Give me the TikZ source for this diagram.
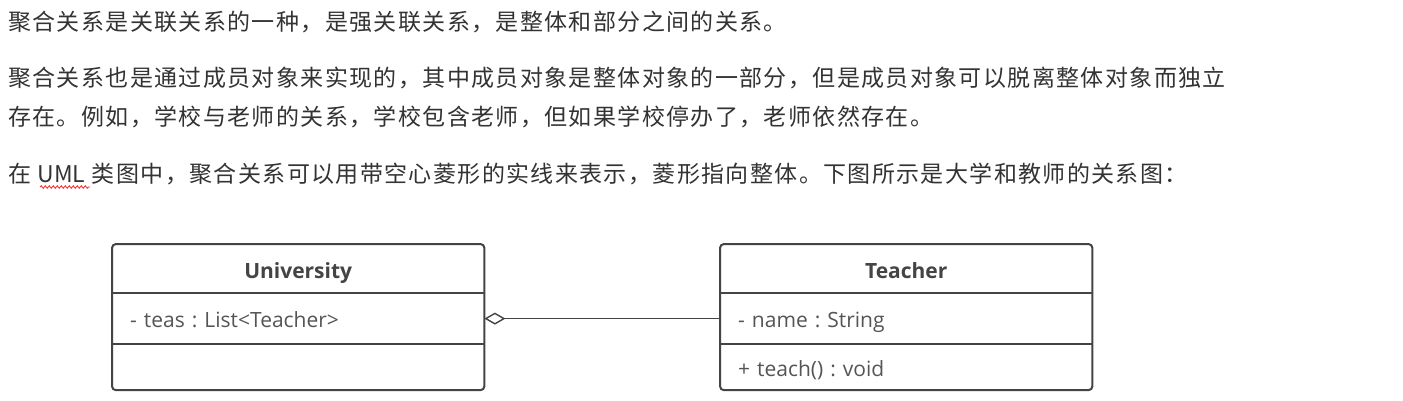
\documentclass[tikz,border=0pt]{standalone}
\usepackage{fontspec}
\setmainfont{Open Sans}
\newfontfamily\cjk[LetterSpace=6]{Noto Sans CJK SC}
\newfontfamily\cjklat{Noto Sans CJK SC}
\usetikzlibrary{positioning,arrows.meta,decorations.pathmorphing}
\definecolor{txtgray}{HTML}{333333}
\definecolor{boxgray}{HTML}{444444}
\definecolor{umlgray}{HTML}{555555}
\frenchspacing
\tikzset{
	para/.style={anchor=base west, inner sep=0, text=txtgray, font=\cjk\fontsize{23}{28}\selectfont},
	classname/.style={minimum width=372pt, minimum height=49pt, inner sep=0, text height=19pt, text depth=0pt, text=boxgray, font=\fontsize{21}{25}\selectfont\bfseries},
	classpart/.style={text width=336pt, inner xsep=18pt, inner ysep=0, minimum height=50pt, text height=18pt, text depth=0pt, align=left, text=umlgray, font=\fontsize{21}{25}\selectfont},
	classbox/.style={line width=2pt, draw=boxgray, rounded corners=4pt},
	divider/.style={line width=2pt, draw=boxgray},
	aggline/.style={line width=1.4pt, draw=boxgray, -{Diamond[open, length=21pt, width=12pt, line width=1.4pt]}}
}
\begin{document}
\begin{tikzpicture}[x=1pt, y=-1pt]
	%%%%% START %%%%%
	\useasboundingbox[fill=white] (0, 0) rectangle (1403, 400);
	
	\node[para] (p1) at (8, 30) {聚合关系是关联关系的一种，是强关联关系，是整体和部分之间的关系。};
	\node[para] (p2) at (8, 86) {聚合关系也是通过成员对象来实现的，其中成员对象是整体对象的一部分，但是成员对象可以脱离整体对象而独立};
	\node[para] (p3) at (8, 125) {存在。例如，学校与老师的关系，学校包含老师，但如果学校停办了，老师依然存在。};
	\node[para] (p4) at (8, 182) {在 {\cjklat UML} 类图中，聚合关系可以用带空心菱形的实线来表示，菱形指向整体。下图所示是大学和教师的关系图：};
	\draw[red!80, line width=0.9pt, decoration={snake, amplitude=1.2pt, segment length=4pt}, decorate] (40, 187) -- (90, 187);
	
	% University
	\node[classname, anchor=north west] (uniname) at (112, 244) {University};
	\node[classpart, below=0pt of uniname] (uniattr) {- teas : List<Teacher>};
	\node[classpart, below=0pt of uniattr, minimum height=46pt] (unimeth) {};
	\draw[classbox] (uniname.north west) rectangle (unimeth.south east);
	\draw[divider] (uniattr.north west) -- (uniattr.north east);
	\draw[divider] (unimeth.north west) -- (unimeth.north east);
	
	% Teacher
	\node[classname, anchor=north west] (teaname) at (720, 244) {Teacher};
	\node[classpart, below=0pt of teaname] (teaattr) {- name : String};
	\node[classpart, below=0pt of teaattr, minimum height=46pt] (teameth) {+ teach() : void};
	\draw[classbox] (teaname.north west) rectangle (teameth.south east);
	\draw[divider] (teaattr.north west) -- (teaattr.north east);
	\draw[divider] (teameth.north west) -- (teameth.north east);
	
	\draw[aggline] (teaattr.west) -- (uniattr.east);
	%%%%% END %%%%%
\end{tikzpicture}
\end{document}
